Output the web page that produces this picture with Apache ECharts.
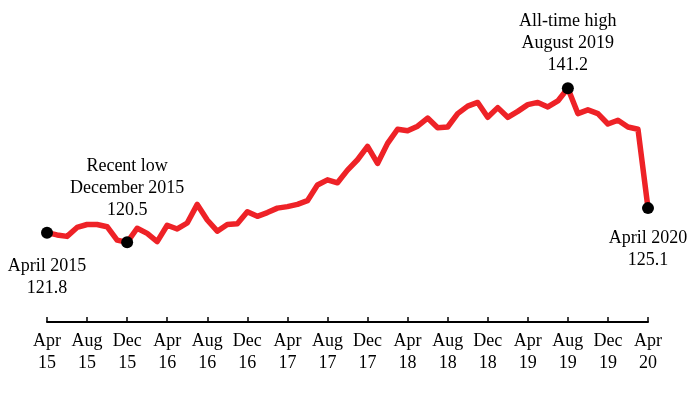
<!DOCTYPE html>
<html>
<head>
<meta charset="utf-8">
<script src="https://cdn.jsdelivr.net/npm/echarts@6/dist/echarts.min.js"></script>
<style>html,body{margin:0;padding:0;background:#fff;}#c{width:699px;height:394px;}</style>
</head>
<body>
<div id="c"></div>
<script>
// Months from April 2015 to April 2020
var months = [
 'Apr 15','May 15','Jun 15','Jul 15','Aug 15','Sep 15','Oct 15','Nov 15','Dec 15',
 'Jan 16','Feb 16','Mar 16','Apr 16','May 16','Jun 16','Jul 16','Aug 16','Sep 16','Oct 16','Nov 16','Dec 16',
 'Jan 17','Feb 17','Mar 17','Apr 17','May 17','Jun 17','Jul 17','Aug 17','Sep 17','Oct 17','Nov 17','Dec 17',
 'Jan 18','Feb 18','Mar 18','Apr 18','May 18','Jun 18','Jul 18','Aug 18','Sep 18','Oct 18','Nov 18','Dec 18',
 'Jan 19','Feb 19','Mar 19','Apr 19','May 19','Jun 19','Jul 19','Aug 19','Sep 19','Oct 19','Nov 19','Dec 19',
 'Jan 20','Feb 20','Mar 20','Apr 20'
];
var values = [
 121.8,121.5,121.3,122.5,122.9,122.9,122.6,120.8,120.5,
 122.4,121.7,120.6,122.8,122.3,123.1,125.6,123.5,122.0,122.9,123.0,124.6,
 124.0,124.5,125.1,125.3,125.6,126.1,128.2,128.9,128.5,130.2,131.6,133.4,
 131.1,133.8,135.7,135.5,136.1,137.2,135.9,136.0,137.8,138.8,139.3,137.3,
 138.6,137.3,138.1,139.0,139.3,138.7,139.5,141.2,137.8,138.3,137.8,136.4,
 136.9,136.0,135.7,125.1
];
// Highlighted points and their annotation text
var highlightIdx = [0, 8, 52, 60];
var highlightText = [
 'April 2015\n121.8',
 'Recent low\nDecember 2015\n120.5',
 'All-time high\nAugust 2019\n141.2',
 'April 2020\n125.1'
];
var highlightPos = ['bottom', 'top', 'top', 'bottom'];
var highlightDist = [17, 15, 6, 13];

var font = "'Liberation Serif','Times New Roman',serif";
var chart = echarts.init(document.getElementById('c'));
var pts = highlightIdx.map(function (i, k) {
  return {
    value: [months[i], values[i]],
    label: {
      show: true, position: highlightPos[k], distance: highlightDist[k],
      formatter: highlightText[k], fontFamily: font, fontSize: 18,
      lineHeight: 22, color: '#000', align: 'center', opacity: 1
    }
  };
});
chart.setOption({
  animation: false,
  grid: { left: 47, right: 51, top: 60, bottom: 72 },
  xAxis: {
    type: 'category', data: months, boundaryGap: false,
    axisLine: { lineStyle: { color: '#000', width: 2 } },
    axisTick: { inside: true, length: 5, interval: 3, lineStyle: { color: '#000', width: 1.5 } },
    axisLabel: {
      interval: 3, margin: 8, fontFamily: font, fontSize: 18, lineHeight: 22, color: '#000',
      formatter: function (v) { return v.replace(' ', '\n'); }
    },
    splitLine: { show: false }
  },
  yAxis: {
    type: 'value', min: 109.8, max: 145, show: false, splitLine: { show: false }
  },
  series: [
    {
      type: 'line', data: values, symbol: 'none',
      lineStyle: { color: '#EE2227', width: 5.5, cap: 'round', join: 'round' },
      z: 2
    },
    {
      type: 'scatter', data: pts, symbol: 'circle', symbolSize: 12,
      itemStyle: { color: '#000', opacity: 1 }, z: 3
    }
  ]
});
</script>
</body>
</html>
